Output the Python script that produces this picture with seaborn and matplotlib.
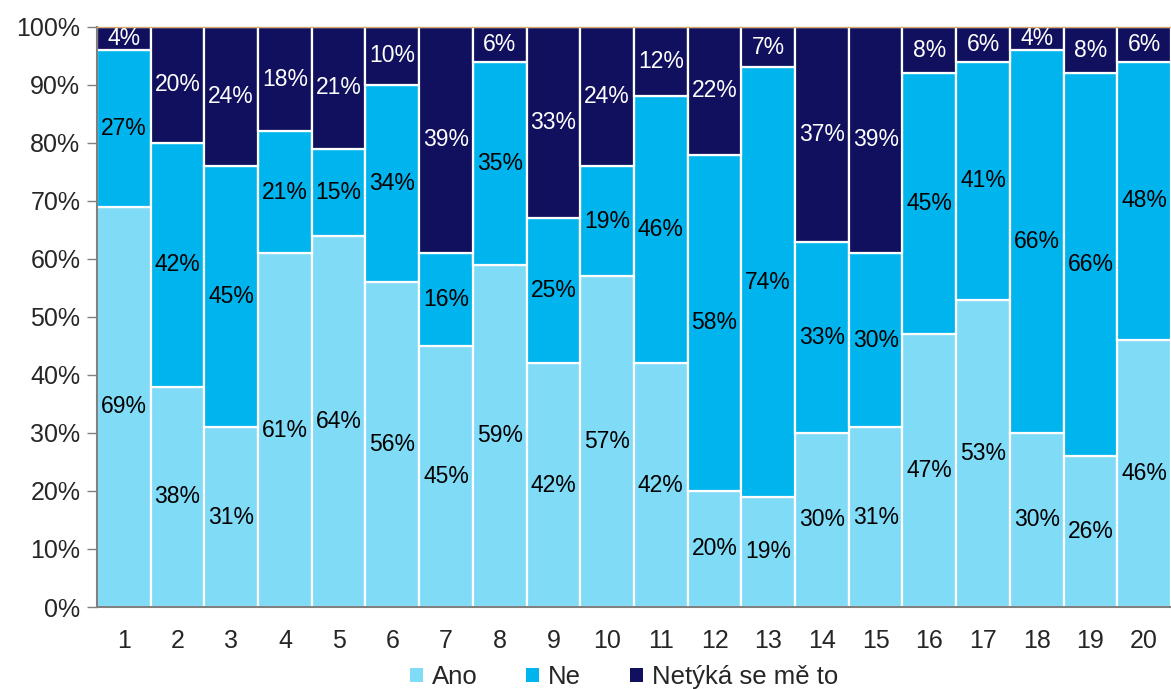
import matplotlib
matplotlib.use("Agg")
import matplotlib.pyplot as plt
import seaborn as sns
import numpy as np
from matplotlib.patches import Patch

# Survey answers per question (percent)
questions = [str(i) for i in range(1, 21)]
ano = [69, 38, 31, 61, 64, 56, 45, 59, 42, 57, 42, 20, 19, 30, 31, 47, 53, 30, 26, 46]
ne = [27, 42, 45, 21, 15, 34, 16, 35, 25, 19, 46, 58, 74, 33, 30, 45, 41, 66, 66, 48]
netyka = [4, 20, 24, 18, 21, 10, 39, 6, 33, 24, 12, 22, 7, 37, 39, 8, 6, 4, 8, 6]

series_names = ["Ano", "Ne", "Netýká se mě to"]
series_values = [ano, ne, netyka]
series_colors = ["#80DBF7", "#00B5EE", "#10105E"]
label_colors = ["black", "black", "white"]

sns.set_style("white")
plt.rcParams["font.family"] = ["Liberation Sans", "DejaVu Sans"]

fig = plt.figure(figsize=(11.71, 6.89), dpi=100)
ax = fig.add_axes([0.0828, 0.119, 0.9172, 0.842])

bottom = np.zeros(len(questions))
for name, vals, col in zip(series_names, series_values, series_colors):
    vals = np.array(vals, dtype=float)
    sns.barplot(x=questions, y=vals, bottom=bottom, color=col, width=1.0,
                saturation=1, edgecolor="white", linewidth=1.6, ax=ax,
                errorbar=None)
    bottom = bottom + vals

for container, vals, tc in zip(ax.containers, series_values, label_colors):
    ax.bar_label(container, labels=[f"{v}%" for v in vals], label_type="center",
                 color=tc, fontsize=16.5)

ax.set_xlim(-0.5, len(questions) - 0.5)
ax.set_ylim(0, 100)
ax.set_yticks(np.arange(0, 101, 10))
ax.set_yticklabels([f"{v}%" for v in range(0, 101, 10)], fontsize=18)
ax.set_xticks(np.arange(len(questions)))
ax.set_xticklabels(questions, fontsize=18)
ax.set_xticks(np.arange(-0.5, len(questions)), minor=True)
ax.tick_params(axis="x", which="major", length=0, pad=16)
ax.tick_params(axis="x", which="minor", length=7, width=1, color="black", direction="out")
ax.tick_params(axis="y", which="major", length=7, width=1, color="#808080",
               direction="out", left=True, pad=5)
ax.set_xlabel("")
ax.set_ylabel("")

for side in ["left", "bottom"]:
    ax.spines[side].set_color("#808080")
    ax.spines[side].set_linewidth(1.5)
ax.spines["top"].set_color("#D8A86A")
ax.spines["top"].set_linewidth(1)
ax.spines["right"].set_visible(False)

handles = [Patch(facecolor=c, edgecolor="none", label=n)
           for n, c in zip(series_names, series_colors)]
fig.legend(handles=handles, loc="center", bbox_to_anchor=(0.533, 0.017), ncol=3,
           frameon=False, fontsize=18.5, handlelength=0.5, handleheight=0.5,
           handletextpad=0.35, columnspacing=1.9)

fig.savefig("out.png", dpi=100)
